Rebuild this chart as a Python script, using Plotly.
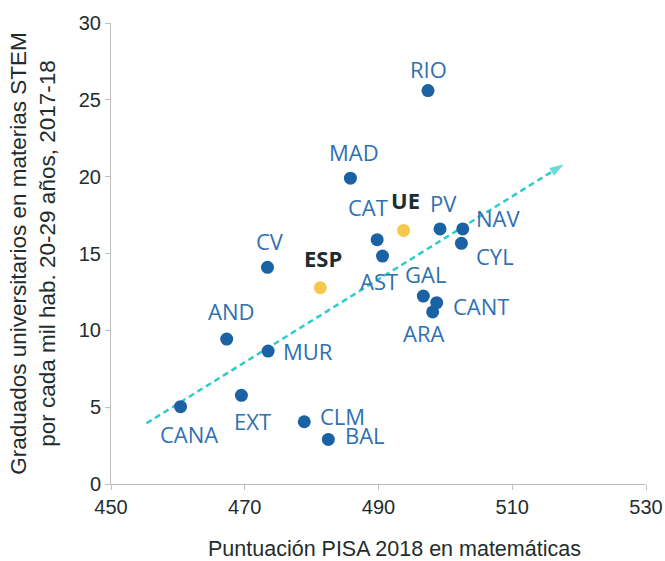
import plotly.graph_objects as go

# Data
regions = ["RIO", "MAD", "CAT", "AST", "CV", "PV", "NAV", "CYL", "GAL", "CANT",
           "ARA", "AND", "MUR", "CANA", "EXT", "CLM", "BAL"]
pisa = [497.4, 485.8, 489.8, 490.6, 473.4, 499.2, 502.6, 502.4, 496.7, 498.7,
        498.1, 467.3, 473.5, 460.4, 469.5, 478.9, 482.5]
stem = [25.6, 19.9, 15.9, 14.83, 14.1, 16.6, 16.6, 15.66, 12.23, 11.8,
        11.2, 9.43, 8.65, 5.03, 5.77, 4.05, 2.9]

ref_names = ["UE", "ESP"]
ref_pisa = [493.75, 481.3]
ref_stem = [16.5, 12.77]

trend_x = [455.3, 517.7]
trend_y = [3.95, 20.8]

x_ticks = [450, 470, 490, 510, 530]
y_ticks = [0, 5, 10, 15, 20, 25, 30]

x_title = "Puntuación PISA 2018 en matemáticas"
y_title = "Graduados universitarios en materias STEM<br>por cada mil hab. 20-29 años, 2017-18"

# label offsets (pixels): (xshift, yshift)
offsets = {
    "RIO": (1, 22), "MAD": (4, 26), "CAT": (-9, 33), "AST": (-4, -25),
    "CV": (3, 26), "PV": (3, 26), "NAV": (35, 11), "CYL": (34, -13),
    "GAL": (2, 22), "CANT": (44, -3), "ARA": (-9, -21), "AND": (4, 28),
    "MUR": (40, 0), "CANA": (8, -27), "EXT": (11, -26), "CLM": (38, 6),
    "BAL": (37, 4), "UE": (2, 30), "ESP": (3, 30),
}

BLUE = "#1B62A5"
LABEL_BLUE = "#3070B0"
YELLOW = "#F6C94C"
TEAL = "#2FCBCB"
DARK = "#1F2D2D"
AXIS = "#BFBFBF"

fig = go.Figure()

fig.add_trace(go.Scatter(
    x=trend_x, y=trend_y, mode="lines+markers",
    line=dict(color=TEAL, width=2.5, dash="6px,4px"),
    marker=dict(symbol=["circle", "arrow"], size=[0, 15], color=TEAL,
                angleref="previous", line=dict(width=0)),
    hoverinfo="skip", showlegend=False,
))

fig.add_trace(go.Scatter(
    x=pisa, y=stem, mode="markers",
    marker=dict(color=BLUE, size=13, line=dict(width=0)),
    showlegend=False,
))
fig.add_trace(go.Scatter(
    x=ref_pisa, y=ref_stem, mode="markers",
    marker=dict(color=YELLOW, size=13, line=dict(width=0)),
    showlegend=False,
))

for name, xv, yv in zip(regions, pisa, stem):
    dx, dy = offsets[name]
    fig.add_annotation(x=xv, y=yv, text=name, showarrow=False,
                       xshift=dx, yshift=dy,
                       font=dict(family="Open Sans", size=22, color=LABEL_BLUE))
for name, xv, yv in zip(ref_names, ref_pisa, ref_stem):
    dx, dy = offsets[name]
    fig.add_annotation(x=xv, y=yv, text="<b>" + name + "</b>", showarrow=False,
                       xshift=dx, yshift=dy,
                       font=dict(family="Open Sans", size=22, color=DARK))

# axis titles as annotations for exact placement
fig.add_annotation(xref="paper", yref="paper", x=0.529, y=-0.141,
                   xanchor="center", yanchor="middle",
                   text=x_title, showarrow=False,
                   font=dict(family="Liberation Sans", size=21.5, color=DARK))
fig.add_annotation(xref="paper", yref="paper", x=-0.147, y=0.5,
                   xanchor="center", yanchor="middle",
                   text=y_title, showarrow=False, textangle=-90,
                   font=dict(family="Liberation Sans", size=22.5, color=DARK))

fig.update_xaxes(
    range=[450, 530], tickvals=x_ticks, ticktext=[str(v) for v in x_ticks],
    showgrid=False, zeroline=False, showline=True, linecolor=AXIS, linewidth=1,
    ticks="outside", ticklen=5, tickcolor=AXIS, automargin=False,
    tickfont=dict(family="Liberation Sans", size=20, color=DARK),
)
fig.update_yaxes(
    range=[0, 30], tickvals=y_ticks, ticktext=[str(v) for v in y_ticks],
    showgrid=False, zeroline=False, showline=True, linecolor=AXIS, linewidth=1,
    ticks="outside", ticklen=5, tickcolor=AXIS, automargin=False,
    tickfont=dict(family="Liberation Sans", size=20, color=DARK),
)

fig.update_layout(
    width=665, height=561,
    margin=dict(l=111, r=19, t=23, b=77),
    plot_bgcolor="white", paper_bgcolor="white",
    showlegend=False,
)

# remove the default page margin so the figure fills the window exactly
fig.write_html("out.html",
               config={"displayModeBar": False},
               post_script="document.body.style.margin='0';document.body.style.overflow='hidden';")
